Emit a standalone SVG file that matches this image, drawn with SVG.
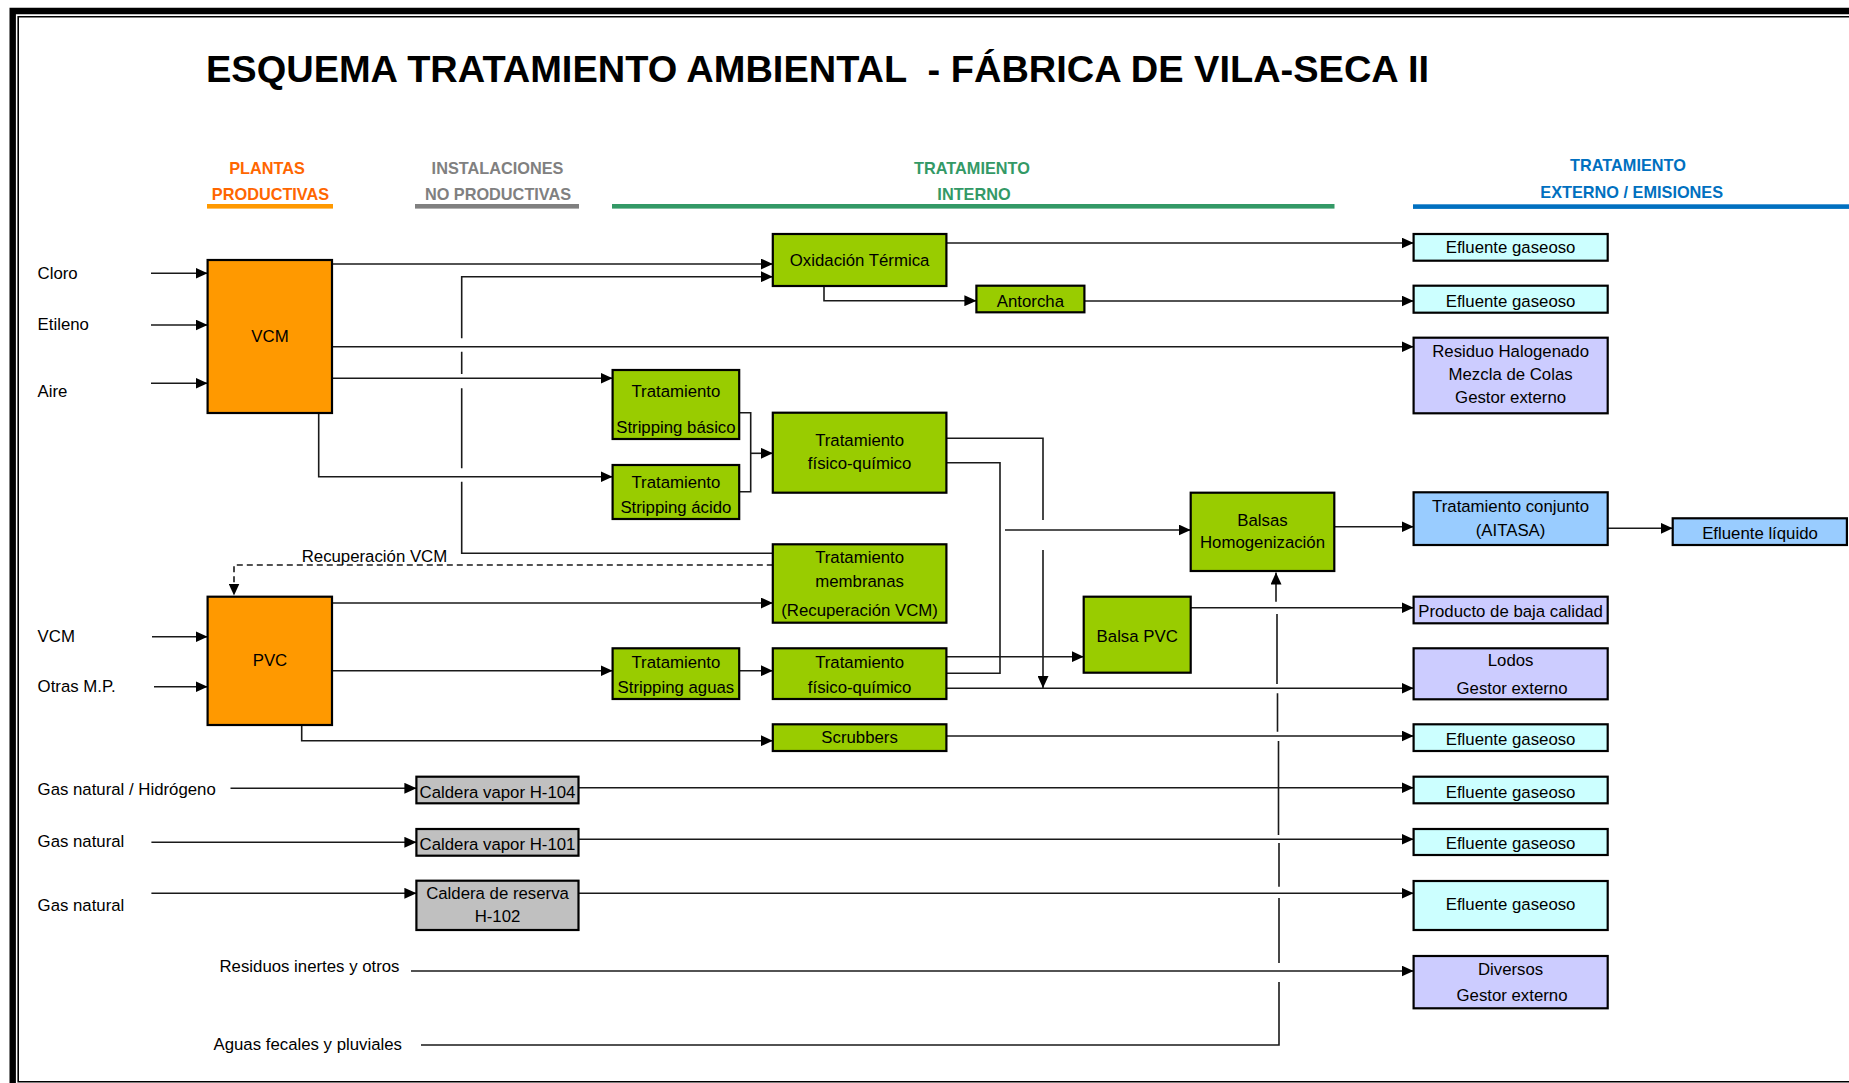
<svg xmlns="http://www.w3.org/2000/svg" width="1849" height="1083" viewBox="0 0 1849 1083">
<defs>
<style>
.bx{stroke:#000;stroke-width:2.2}
.or{fill:#FF9900}.gr{fill:#99CC00}.gy{fill:#C0C0C0}.cy{fill:#CCFFFF}.lv{fill:#CCCCFF}.lb{fill:#99CCFF}
text{font-family:"Liberation Sans",Arial,Helvetica,sans-serif;font-size:16.8px;fill:#000}
.m{text-anchor:middle}
.hd{font-weight:bold;font-size:16.3px;text-anchor:middle}
.c{fill:none;stroke:#1a1a1a;stroke-width:1.6}
.a{marker-end:url(#arr)}
.d{stroke-dasharray:6 4}
</style>
<marker id="arr" markerUnits="userSpaceOnUse" markerWidth="12" markerHeight="11" refX="12" refY="5.5" orient="auto"><path d="M0,0L12,5.5L0,11z" fill="#000"/></marker>
</defs>
<rect width="1849" height="1083" fill="#fff"/>
<g id="border" fill="none" stroke="#000">
<path d="M12.7,1083V11H1849" stroke-width="6.4"/>
<path d="M1849,16.7H18.2V1081.7H1849" stroke-width="1.6"/>
</g>
<g id="title">
<text x="206" y="82" xml:space="preserve" textLength="1223" lengthAdjust="spacingAndGlyphs" style="font-weight:bold;font-size:37.5px;white-space:pre">ESQUEMA TRATAMIENTO AMBIENTAL  - FÁBRICA DE VILA-SECA II</text>
</g>
<g id="headers">
<text class="hd" x="267" y="174" style="fill:#FF6600">PLANTAS</text>
<text class="hd" x="270.5" y="200" style="fill:#FF6600">PRODUCTIVAS</text>
<rect x="207" y="204" width="126" height="4.6" fill="#FF9900"/>
<text class="hd" x="497.5" y="174" style="fill:#808080">INSTALACIONES</text>
<text class="hd" x="498" y="200" style="fill:#808080">NO PRODUCTIVAS</text>
<rect x="415" y="204" width="164" height="4.6" fill="#808080"/>
<text class="hd" x="972" y="174" style="fill:#339966">TRATAMIENTO</text>
<text class="hd" x="974" y="200" style="fill:#339966">INTERNO</text>
<rect x="612" y="204" width="722.5" height="4.6" fill="#339966"/>
<text class="hd" x="1628" y="171" style="fill:#0070C0">TRATAMIENTO</text>
<text class="hd" x="1631.7" y="198.3" style="fill:#0070C0">EXTERNO / EMISIONES</text>
<rect x="1413" y="204.3" width="436" height="4.6" fill="#0070C0"/>
</g>
<g id="inputs">
<text x="37.6" y="279">Cloro</text>
<text x="37.6" y="330">Etileno</text>
<text x="37.6" y="396.7">Aire</text>
<text x="37.6" y="641.7">VCM</text>
<text x="37.6" y="691.7">Otras M.P.</text>
<text x="37.6" y="795">Gas natural / Hidrógeno</text>
<text x="37.6" y="847.3">Gas natural</text>
<text x="37.6" y="910.7">Gas natural</text>
<text x="219.5" y="972.3">Residuos inertes y otros</text>
<text x="213.5" y="1050">Aguas fecales y pluviales</text>
</g>
<g id="connectors">
<path class="c a" d="M151,273.3H207.6"/>
<path class="c a" d="M151,325H207.6"/>
<path class="c a" d="M151,383.3H207.6"/>
<path class="c a" d="M152,636.7H207.6"/>
<path class="c a" d="M154,686.7H207.6"/>
<path class="c a" d="M230.5,788.3H416.4"/>
<path class="c a" d="M151.4,842.3H416.4"/>
<path class="c a" d="M151.4,893.3H416.4"/>
<path class="c a" d="M332,264H772.8"/>
<path class="c a" d="M332,346.7H1413.6"/>
<path class="c a" d="M332,378.3H612.6"/>
<path class="c a" d="M318.7,413V476.7H612.6"/>
<path class="c a" d="M772.8,553.3H461.7V481.7M461.7,468.3V388.3M461.7,374V351.7M461.7,338.3V276.7H772.8"/>
<path class="c a d" d="M772.8,565H234V595.5"/>
<path class="c a" d="M946.4,243H1413.6"/>
<path class="c a" d="M824,286V300.7H976.4"/>
<path class="c a" d="M1084.4,301H1413.6"/>
<path class="c" d="M739,412.7H750.7V491.7H739"/>
<path class="c a" d="M750.7,453.3H772.8"/>
<path class="c a" d="M946.4,438.3H1043V520M1043,550V688"/>
<path class="c" d="M946.4,462.7H1000V673.3H946.4"/>
<path class="c a" d="M1005,530H1190.7"/>
<path class="c a" d="M1334.3,526.7H1413.6"/>
<path class="c a" d="M1607.7,528.3H1672.7"/>
<path class="c a" d="M332,603H772.8"/>
<path class="c a" d="M332,670.7H612.6"/>
<path class="c a" d="M739.2,670.7H772.8"/>
<path class="c a" d="M301.7,725V740.7H772.8"/>
<path class="c a" d="M946.4,656.7H1083.7"/>
<path class="c a" d="M946.4,688.3H1413.6"/>
<path class="c a" d="M1190.7,607.7H1413.6"/>
<path class="c a" d="M946.4,736H1413.6"/>
<path class="c a" d="M578.5,787.7H1413.6"/>
<path class="c a" d="M578.5,839.3H1413.6"/>
<path class="c a" d="M578.5,893.3H1413.6"/>
<path class="c a" d="M411,971H1413.6"/>
<path class="c a" d="M421,1045H1279V982M1279,963V898M1279,886.7V843M1278.5,835V741M1277.5,731.7V693.3M1277,684V614M1276,601.7V572.5"/>
</g>
<g id="vcm"><rect class="bx or" x="207.6" y="260" width="124.4" height="153"/><text class="m" x="270" y="341.7">VCM</text></g>
<g id="pvc"><rect class="bx or" x="207.6" y="596.7" width="124.4" height="128.3"/><text class="m" x="270" y="666">PVC</text></g>
<g id="oxidacion"><rect class="bx gr" x="772.8" y="234" width="173.6" height="52"/><text class="m" x="859.6" y="266">Oxidación Térmica</text></g>
<g id="antorcha"><rect class="bx gr" x="976.4" y="285.7" width="108" height="26.6"/><text class="m" x="1030.4" y="306.7">Antorcha</text></g>
<g id="stripping-basico"><rect class="bx gr" x="612.6" y="370" width="126.6" height="69"/><text class="m" x="675.9" y="396.7">Tratamiento</text><text class="m" x="675.9" y="433">Stripping básico</text></g>
<g id="stripping-acido"><rect class="bx gr" x="612.6" y="465" width="126.6" height="54"/><text class="m" x="675.9" y="488.3">Tratamiento</text><text class="m" x="675.9" y="513">Stripping ácido</text></g>
<g id="fisico-quimico-1"><rect class="bx gr" x="772.8" y="412.7" width="173.6" height="80"/><text class="m" x="859.6" y="446">Tratamiento</text><text class="m" x="859.6" y="469.3">físico-químico</text></g>
<g id="membranas"><rect class="bx gr" x="772.8" y="544.3" width="173.6" height="78.4"/><text class="m" x="859.6" y="563.3">Tratamiento</text><text class="m" x="859.6" y="586.7">membranas</text><text class="m" x="859.6" y="616">(Recuperación VCM)</text></g>
<g id="stripping-aguas"><rect class="bx gr" x="612.6" y="648.3" width="126.6" height="50.7"/><text class="m" x="675.9" y="667.7">Tratamiento</text><text class="m" x="675.9" y="693.3">Stripping aguas</text></g>
<g id="fisico-quimico-2"><rect class="bx gr" x="772.8" y="648.3" width="173.6" height="50.7"/><text class="m" x="859.6" y="667.7">Tratamiento</text><text class="m" x="859.6" y="693.3">físico-químico</text></g>
<g id="scrubbers"><rect class="bx gr" x="772.8" y="724.3" width="173.6" height="26.7"/><text class="m" x="859.6" y="743.3">Scrubbers</text></g>
<g id="balsas-homogenizacion"><rect class="bx gr" x="1190.7" y="492.7" width="143.6" height="78.3"/><text class="m" x="1262.5" y="526">Balsas</text><text class="m" x="1262.5" y="547.7">Homogenización</text></g>
<g id="balsa-pvc"><rect class="bx gr" x="1083.7" y="596.7" width="107" height="76"/><text class="m" x="1137.2" y="641.7">Balsa PVC</text></g>
<g id="caldera-h104"><rect class="bx gy" x="416.4" y="776.7" width="162.1" height="26.6"/><text class="m" x="497.5" y="797.7">Caldera vapor H-104</text></g>
<g id="caldera-h101"><rect class="bx gy" x="416.4" y="829" width="162.1" height="26.7"/><text class="m" x="497.5" y="850">Caldera vapor H-101</text></g>
<g id="caldera-h102"><rect class="bx gy" x="416.4" y="880.7" width="162.1" height="49.3"/><text class="m" x="497.5" y="899.3">Caldera de reserva</text><text class="m" x="497.5" y="921.7">H-102</text></g>
<g id="efluente-gaseoso-1"><rect class="bx cy" x="1413.6" y="234" width="194.1" height="26.7"/><text class="m" x="1510.6" y="252.7">Efluente gaseoso</text></g>
<g id="efluente-gaseoso-2"><rect class="bx cy" x="1413.6" y="285.7" width="194.1" height="27"/><text class="m" x="1510.6" y="306.7">Efluente gaseoso</text></g>
<g id="residuo-halogenado"><rect class="bx lv" x="1413.6" y="337.7" width="194.1" height="75.6"/><text class="m" x="1510.6" y="356.7">Residuo Halogenado</text><text class="m" x="1510.6" y="380">Mezcla de Colas</text><text class="m" x="1510.6" y="403.3">Gestor externo</text></g>
<g id="aitasa"><rect class="bx lb" x="1413.6" y="492.3" width="194.1" height="52.7"/><text class="m" x="1510.6" y="512.3">Tratamiento conjunto</text><text class="m" x="1510.6" y="535.7">(AITASA)</text></g>
<g id="efluente-liquido"><rect class="bx lb" x="1672.7" y="518.3" width="174.2" height="26.7"/><text class="m" x="1760" y="539">Efluente líquido</text></g>
<g id="producto-baja-calidad"><rect class="bx lv" x="1413.6" y="596.7" width="194.1" height="26.6"/><text class="m" x="1510.6" y="616.7">Producto de baja calidad</text></g>
<g id="lodos"><rect class="bx lv" x="1413.6" y="648.3" width="194.1" height="51"/><text class="m" x="1510.6" y="666">Lodos</text><text class="m" x="1512" y="694">Gestor externo</text></g>
<g id="efluente-gaseoso-3"><rect class="bx cy" x="1413.6" y="724.3" width="194.1" height="26.7"/><text class="m" x="1510.6" y="745">Efluente gaseoso</text></g>
<g id="efluente-gaseoso-4"><rect class="bx cy" x="1413.6" y="776.7" width="194.1" height="26.6"/><text class="m" x="1510.6" y="797.7">Efluente gaseoso</text></g>
<g id="efluente-gaseoso-5"><rect class="bx cy" x="1413.6" y="829" width="194.1" height="26"/><text class="m" x="1510.6" y="849.3">Efluente gaseoso</text></g>
<g id="efluente-gaseoso-6"><rect class="bx cy" x="1413.6" y="881" width="194.1" height="49"/><text class="m" x="1510.6" y="910">Efluente gaseoso</text></g>
<g id="diversos"><rect class="bx lv" x="1413.6" y="956" width="194.1" height="52.3"/><text class="m" x="1510.6" y="975">Diversos</text><text class="m" x="1512" y="1000.7">Gestor externo</text></g>
<g id="recuperacion-label"><text x="301.7" y="561.7">Recuperación VCM</text></g>
</svg>
